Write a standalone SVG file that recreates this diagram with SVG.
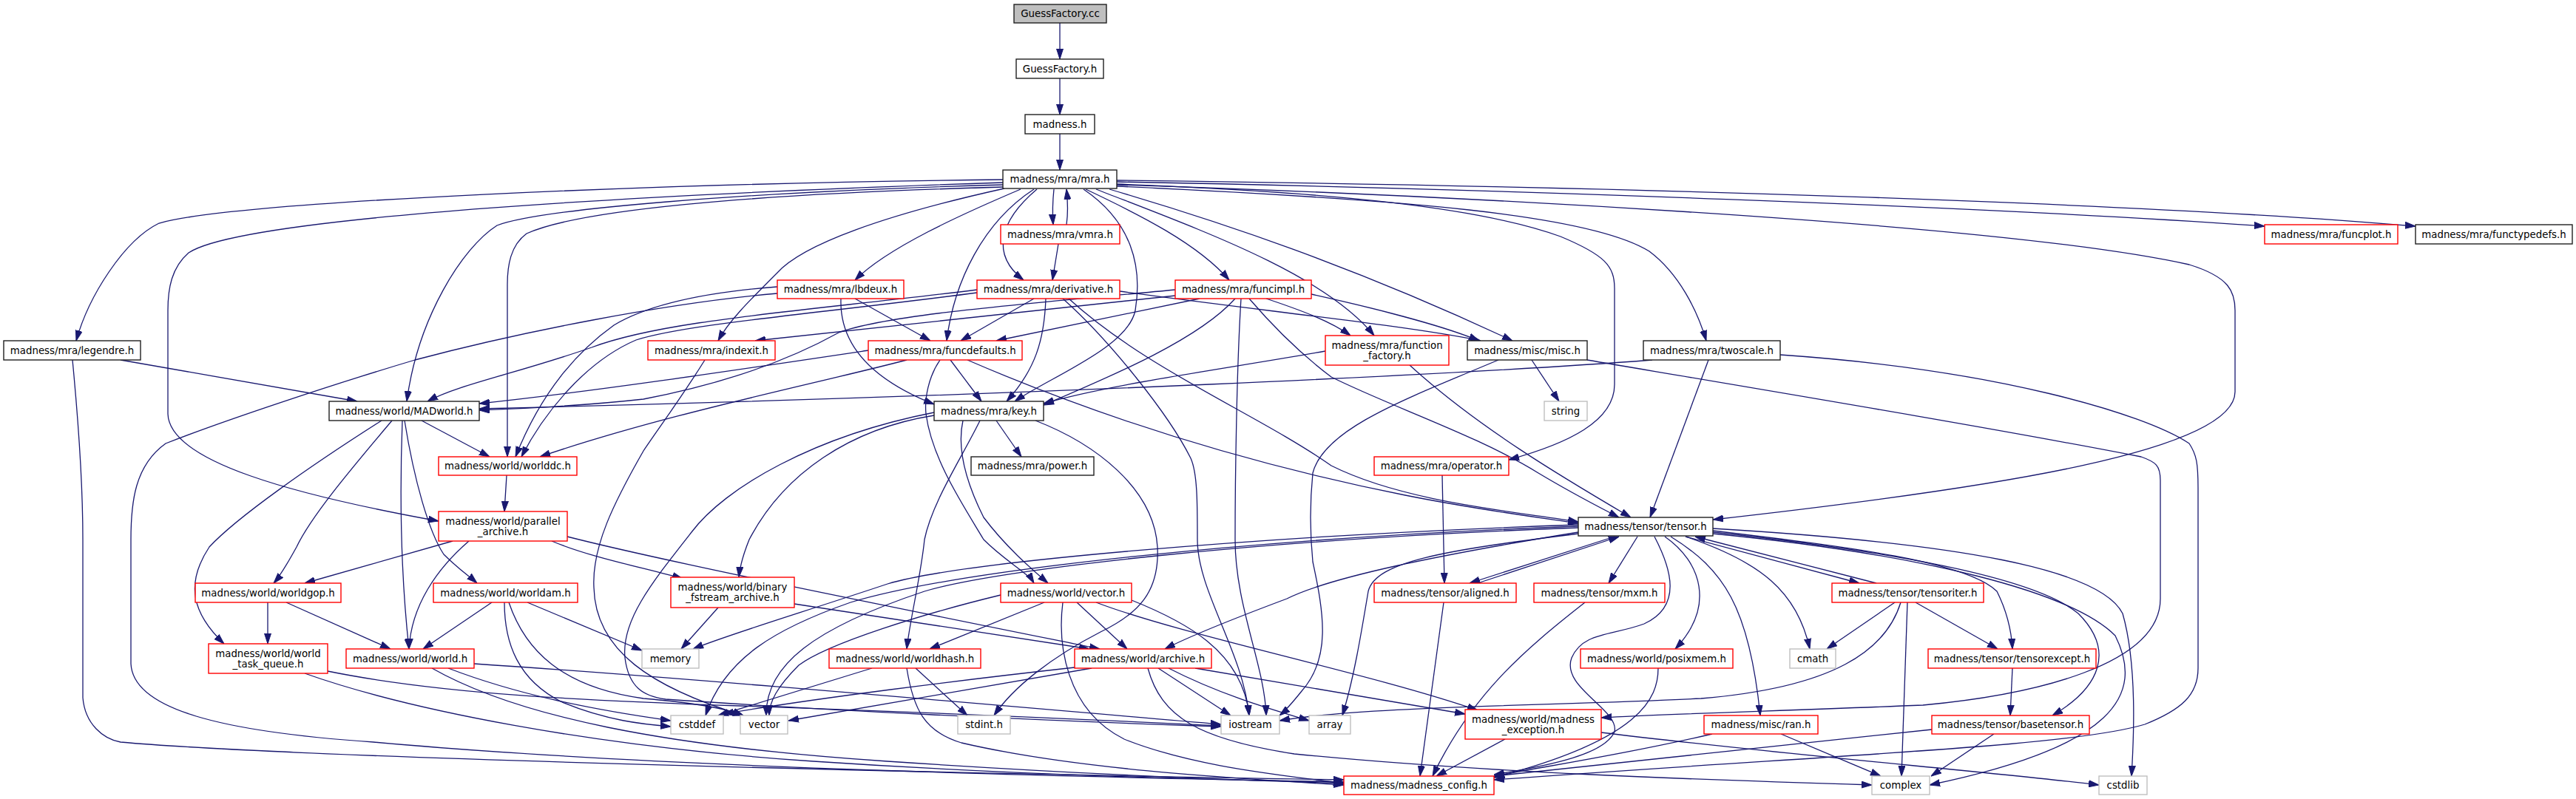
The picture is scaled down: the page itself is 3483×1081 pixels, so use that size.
<svg xmlns="http://www.w3.org/2000/svg" width="3483" height="1081" viewBox="0 0 3483 1081">
<style>
.n rect{fill:#fff;stroke:#202020;stroke-width:1.4}
.r rect{stroke:#ff0000}
.g rect{stroke:#bfbfbf}
.root rect{fill:#bfbfbf}
text{font-family:"DejaVu Sans","Liberation Sans",sans-serif;font-size:13.33px;fill:#000;text-anchor:middle}
.e path{fill:none;stroke:#191970;stroke-width:1.3;marker-end:url(#a)}
</style>
<defs>
<marker id="a" markerUnits="userSpaceOnUse" markerWidth="14" markerHeight="10" viewBox="0 0 14 10" refX="14" refY="5" orient="auto"><path d="M0,0.5 L14,5 L0,9.5 z" fill="#191970" stroke="#191970"/></marker>
</defs>
<rect width="3483" height="1081" fill="#fff"/>
<g class="e" id="edges">
<path d="M1433,31 L1433,80"/>
<path d="M1433,106 L1433,155"/>
<path d="M1433,181 L1433,230"/>
<path d="M1425,256 C1423,275 1423,290 1424,304"/>
<path d="M1442,304 C1444,290 1444,275 1442,256"/>
<path d="M1431,330 L1423,379"/>
<path d="M1356,243 C900,248 320,272 215,302 C168,325 120,400 103,461"/>
<path d="M1356,247 C900,262 330,292 255,342 C232,362 227,390 227,420 L227,560 C229,625 400,670 593,705"/>
<path d="M1356,250 C1000,260 730,283 672,305 C625,335 565,430 550,543"/>
<path d="M1356,253 C1000,263 780,285 712,316 C690,332 686,360 686,385 L686,618"/>
<path d="M1358,255 C1200,290 1085,330 1050,370 C1010,410 985,435 971,461"/>
<path d="M1380,256 C1300,290 1200,335 1156,379"/>
<path d="M1398,256 C1330,300 1290,380 1280,461"/>
<path d="M1402,256 C1350,300 1340,345 1384,379"/>
<path d="M1465,256 C1530,300 1545,360 1535,420 C1525,470 1420,510 1372,543"/>
<path d="M1468,256 C1540,290 1620,330 1662,379"/>
<path d="M1482,256 C1620,310 1790,370 1858,454"/>
<path d="M1500,256 C1650,300 1830,360 2045,461"/>
<path d="M1510,249 C1800,260 2000,280 2110,320 C2170,345 2183,360 2183,390 L2183,520 C2183,570 2120,600 2040,622"/>
<path d="M1510,252 C1900,270 2150,290 2230,340 C2270,370 2295,420 2307,461"/>
<path d="M1510,250 C1900,262 2700,300 2960,358 C3015,375 3022,395 3022,420 L3022,530 C3022,610 2700,660 2316,703"/>
<path d="M1510,246 C2000,255 2700,280 3062,306"/>
<path d="M1510,244 C2200,252 2900,275 3266,306"/>
<path d="M1156,404 L1258,461"/>
<path d="M1137,404 C1135,460 1170,510 1263,547"/>
<path d="M1051,388 C960,395 880,410 830,440 C760,490 720,560 697,618"/>
<path d="M1051,397 C900,410 700,450 561,487 C450,520 300,570 224,600 C182,630 177,680 177,730 L177,898 C180,960 300,990 505,1004 C900,1040 1500,1052 1817,1058"/>
<path d="M1398,404 L1299,461"/>
<path d="M1414,404 C1412,460 1400,500 1361,543"/>
<path d="M1437,404 C1500,460 1580,560 1610,620 C1619,640 1619,680 1619,730 C1619,800 1680,880 1689,968"/>
<path d="M1445,404 C1550,500 1700,560 1800,630 C1900,680 2050,692 2134,706"/>
<path d="M1514,394 C1700,420 1900,440 2002,461"/>
<path d="M1321,392 C1100,420 900,432 800,470 C700,505 620,520 578,543"/>
<path d="M1321,396 C1100,425 930,438 860,460 C790,490 735,560 705,618"/>
<path d="M1622,404 L1347,461"/>
<path d="M1589,400 L1021,461"/>
<path d="M1670,404 C1620,460 1500,510 1411,548"/>
<path d="M1678,404 C1672,500 1670,650 1670,730 C1670,820 1710,900 1712,968"/>
<path d="M1589,392 C1400,410 1200,425 1134,450 C1080,480 1000,515 870,540 C780,550 700,553 648,555"/>
<path d="M1712,404 C1760,420 1800,435 1826,454"/>
<path d="M1773,398 C1850,415 1950,440 2000,461"/>
<path d="M1689,404 C1720,440 1760,480 1800,510 C1880,550 2000,590 2080,640 C2130,670 2170,690 2189,700"/>
<path d="M953,487 C920,540 890,580 870,610 C830,680 800,740 803,795 C805,880 880,930 1005,968"/>
<path d="M1285,487 L1327,543"/>
<path d="M1174,474 C1000,500 800,530 648,546"/>
<path d="M1226,487 C1100,520 900,560 730,618"/>
<path d="M1271,487 C1255,510 1250,540 1252,560 C1260,620 1300,680 1330,730 C1360,760 1390,775 1398,789"/>
<path d="M1308,487 C1500,570 1700,630 1900,670 C2000,690 2080,700 2134,708"/>
<path d="M1347,569 L1381,618"/>
<path d="M1325,569 C1300,620 1260,680 1250,730 C1245,780 1230,840 1226,878"/>
<path d="M1302,569 C1295,600 1300,640 1330,700 C1360,740 1395,770 1417,789"/>
<path d="M1400,569 C1480,600 1560,660 1565,740 C1568,800 1540,830 1488,855 C1420,890 1370,930 1344,968"/>
<path d="M1263,562 C1150,580 1060,640 1013,730 C1005,750 1000,770 999,781"/>
<path d="M1263,558 C1100,590 980,660 935,720 C880,790 840,840 845,890 C850,930 870,942 900,946 C1100,960 1400,975 1651,983"/>
<path d="M1792,475 C1650,500 1500,520 1411,546"/>
<path d="M1906,494 C2000,580 2120,650 2205,700"/>
<path d="M2071,487 L2108,543"/>
<path d="M2026,487 C1900,540 1790,580 1775,640 C1771,680 1771,720 1775,760 C1790,830 1800,890 1760,935 C1748,950 1740,960 1730,968"/>
<path d="M2146,487 C2400,530 2700,580 2895,618 C2915,625 2921,630 2921,650 L2921,810 C2921,900 2750,940 2600,954 C2400,962 2250,966 2165,971"/>
<path d="M2310,487 L2231,700"/>
<path d="M2407,480 C2700,500 2900,560 2960,600 C2970,615 2972,627 2972,660 L2972,904 C2972,940 2950,960 2900,980 C2800,1010 2500,1020 2020,1055"/>
<path d="M2234,487 C2000,505 1400,535 648,553"/>
<path d="M1950,643 L1953,789"/>
<path d="M2183,726 L1987,789"/>
<path d="M1998,789 L2189,726"/>
<path d="M2214,726 L2175,789"/>
<path d="M2251,726 C2300,760 2320,820 2265,878"/>
<path d="M2237,726 C2260,770 2275,820 2223,844 C2180,860 2140,855 2125,890 C2110,930 2190,960 2183,990 C2170,1020 2100,1035 2020,1048"/>
<path d="M2259,726 C2330,770 2365,820 2380,968"/>
<path d="M2279,726 C2380,760 2430,800 2447,878"/>
<path d="M2279,726 L2514,789"/>
<path d="M2537,789 L2292,726"/>
<path d="M2316,718 C2500,740 2660,760 2700,800 C2715,830 2720,860 2721,878"/>
<path d="M2316,720 C2550,745 2750,780 2810,830 C2860,880 2840,930 2775,968"/>
<path d="M2316,722 C2600,750 2800,800 2860,860 C2900,940 2860,1010 2609,1062"/>
<path d="M2316,715 C2650,735 2840,770 2870,830 C2890,900 2885,1000 2882,1050"/>
<path d="M2134,722 C1950,745 1860,760 1850,800 C1840,860 1830,920 1815,968"/>
<path d="M2134,720 C1950,750 1800,780 1740,810 C1660,840 1610,860 1575,878"/>
<path d="M2134,710 C1700,725 1300,760 1200,790 C1080,830 980,860 937,878"/>
<path d="M2134,712 C1700,728 1300,770 1150,815 C1050,850 980,890 954,968"/>
<path d="M2134,714 C1700,730 1350,770 1250,800 C1100,850 1035,900 1036,968"/>
<path d="M1412,815 L1257,878"/>
<path d="M1456,815 L1524,878"/>
<path d="M1530,812 C1600,840 1680,880 1689,968"/>
<path d="M1353,805 C1250,830 1120,870 1080,900 C1050,930 1040,950 1040,968"/>
<path d="M1437,815 C1430,870 1440,960 1520,1000 C1620,1040 1750,1050 1817,1060"/>
<path d="M1482,815 C1600,860 1850,910 1998,961"/>
<path d="M971,822 L921,878"/>
<path d="M1074,817 L1473,878"/>
<path d="M1179,904 L971,968"/>
<path d="M1238,904 L1308,968"/>
<path d="M1226,904 C1235,960 1250,990 1300,1005 C1450,1040 1650,1052 1817,1062"/>
<path d="M1453,903 C1300,920 1100,945 978,966"/>
<path d="M1476,904 L1066,975"/>
<path d="M1566,904 L1664,968"/>
<path d="M1580,904 C1650,940 1720,960 1770,975"/>
<path d="M1616,904 L1981,966"/>
<path d="M1552,904 C1570,970 1620,1000 1750,1020 C2000,1045 2300,1055 2531,1062"/>
<path d="M2035,1000 L1942,1050"/>
<path d="M2165,991 C2400,1020 2700,1045 2838,1062"/>
<path d="M2315,993 C2200,1020 2100,1035 2020,1050"/>
<path d="M2408,993 L2543,1050"/>
<path d="M2242,904 C2242,944 2220,1000 2020,1052"/>
<path d="M1952,815 L1920,1050"/>
<path d="M2143,815 C2060,880 1990,940 1937,1050"/>
<path d="M2562,815 L2470,878"/>
<path d="M2590,815 L2701,878"/>
<path d="M2579,815 L2571,1050"/>
<path d="M2570,815 C2550,880 2480,930 2300,945 C2100,955 1850,955 1730,975"/>
<path d="M2721,904 L2718,968"/>
<path d="M2696,993 L2611,1050"/>
<path d="M2612,987 C2400,1010 2200,1030 2020,1050"/>
<path d="M412,911 C550,960 800,1010 1100,1030 C1400,1050 1650,1055 1817,1058"/>
<path d="M443,908 C600,940 800,948 1000,955 C1300,965 1500,975 1651,982"/>
<path d="M641,898 C900,915 1300,950 1651,980"/>
<path d="M606,904 C700,940 800,960 907,975"/>
<path d="M584,904 C700,970 900,1010 1200,1030 C1500,1050 1700,1056 1817,1060"/>
<path d="M665,815 L572,878"/>
<path d="M713,815 L868,880"/>
<path d="M682,815 C682,870 700,920 760,950 C820,975 870,980 907,983"/>
<path d="M688,815 C710,880 760,930 870,945 C930,950 980,958 1005,968"/>
<path d="M362,815 L362,871"/>
<path d="M387,815 L528,878"/>
<path d="M516,569 C420,630 320,700 283,740 C250,790 260,830 303,871"/>
<path d="M530,569 C470,640 420,700 401,740 C390,760 378,780 370,789"/>
<path d="M544,569 C541,650 540,760 553,878"/>
<path d="M547,569 C560,650 580,720 600,750 C620,770 635,780 645,789"/>
<path d="M570,569 L662,618"/>
<path d="M163,487 L483,543"/>
<path d="M98,487 C105,560 112,650 112,730 L112,944 C115,980 140,1000 163,1004 C400,1025 1200,1045 1817,1055"/>
<path d="M685,643 L682,692"/>
<path d="M612,732 L412,789"/>
<path d="M634,732 C590,770 556,820 553,878"/>
<path d="M767,726 C900,760 1200,820 1487,878"/>
<path d="M746,732 C800,755 880,770 923,783"/>
</g>
<g id="n_gfcc" class="n root"><rect x="1371" y="6" width="125" height="25"/><text x="1433.5" y="23.2">GuessFactory.cc</text></g>
<g id="n_gfh" class="n"><rect x="1374" y="80" width="118" height="26"/><text x="1433" y="97.7">GuessFactory.h</text></g>
<g id="n_madness" class="n"><rect x="1386" y="155" width="94" height="26"/><text x="1433" y="172.7">madness.h</text></g>
<g id="n_mra" class="n"><rect x="1356" y="230" width="154" height="25"/><text x="1433" y="247.2">madness/mra/mra.h</text></g>
<g id="n_vmra" class="n r"><rect x="1353" y="304" width="161" height="26"/><text x="1433.5" y="321.7">madness/mra/vmra.h</text></g>
<g id="n_funcplot" class="n r"><rect x="3062" y="304" width="180" height="26"/><text x="3152" y="321.7">madness/mra/funcplot.h</text></g>
<g id="n_functypedefs" class="n"><rect x="3266" y="304" width="212" height="26"/><text x="3372" y="321.7">madness/mra/functypedefs.h</text></g>
<g id="n_legendre" class="n"><rect x="5" y="461" width="185" height="26"/><text x="97.5" y="478.7">madness/mra/legendre.h</text></g>
<g id="n_madworld" class="n"><rect x="445" y="543" width="203" height="26"/><text x="546.5" y="560.7">madness/world/MADworld.h</text></g>
<g id="n_worlddc" class="n r"><rect x="593" y="618" width="187" height="25"/><text x="686.5" y="635.2">madness/world/worlddc.h</text></g>
<g id="n_parallel" class="n r"><rect x="593" y="692" width="174" height="40"/><text x="680" y="709.5">madness/world/parallel</text><text x="680" y="723.5">_archive.h</text></g>
<g id="n_lbdeux" class="n r"><rect x="1051" y="379" width="171" height="25"/><text x="1136.5" y="396.2">madness/mra/lbdeux.h</text></g>
<g id="n_derivative" class="n r"><rect x="1321" y="379" width="193" height="25"/><text x="1417.5" y="396.2">madness/mra/derivative.h</text></g>
<g id="n_funcimpl" class="n r"><rect x="1589" y="379" width="184" height="25"/><text x="1681" y="396.2">madness/mra/funcimpl.h</text></g>
<g id="n_indexit" class="n r"><rect x="876" y="461" width="172" height="26"/><text x="962" y="478.7">madness/mra/indexit.h</text></g>
<g id="n_funcdefaults" class="n r"><rect x="1174" y="461" width="208" height="26"/><text x="1278" y="478.7">madness/mra/funcdefaults.h</text></g>
<g id="n_key" class="n"><rect x="1263" y="543" width="148" height="26"/><text x="1337" y="560.7">madness/mra/key.h</text></g>
<g id="n_power" class="n"><rect x="1313" y="618" width="166" height="25"/><text x="1396" y="635.2">madness/mra/power.h</text></g>
<g id="n_funcfactory" class="n r"><rect x="1792" y="454" width="167" height="40"/><text x="1875.5" y="471.5">madness/mra/function</text><text x="1875.5" y="485.5">_factory.h</text></g>
<g id="n_misc" class="n"><rect x="1984" y="461" width="162" height="26"/><text x="2065" y="478.7">madness/misc/misc.h</text></g>
<g id="n_twoscale" class="n"><rect x="2222" y="461" width="185" height="26"/><text x="2314.5" y="478.7">madness/mra/twoscale.h</text></g>
<g id="n_string" class="n g"><rect x="2088" y="543" width="58" height="26"/><text x="2117" y="560.7">string</text></g>
<g id="n_operator" class="n r"><rect x="1858" y="618" width="182" height="25"/><text x="1949" y="635.2">madness/mra/operator.h</text></g>
<g id="n_tensor" class="n"><rect x="2134" y="700" width="182" height="25"/><text x="2225" y="717.2">madness/tensor/tensor.h</text></g>
<g id="n_worldgop" class="n r"><rect x="264" y="789" width="197" height="26"/><text x="362.5" y="806.7">madness/world/worldgop.h</text></g>
<g id="n_worldam" class="n r"><rect x="586" y="789" width="195" height="26"/><text x="683.5" y="806.7">madness/world/worldam.h</text></g>
<g id="n_wtq" class="n r"><rect x="282" y="871" width="161" height="40"/><text x="362.5" y="888.5">madness/world/world</text><text x="362.5" y="902.5">_task_queue.h</text></g>
<g id="n_world" class="n r"><rect x="468" y="878" width="173" height="26"/><text x="554.5" y="895.7">madness/world/world.h</text></g>
<g id="n_memory" class="n g"><rect x="868" y="878" width="77" height="26"/><text x="906.5" y="895.7">memory</text></g>
<g id="n_binary" class="n r"><rect x="907" y="781" width="167" height="41"/><text x="990.5" y="799">madness/world/binary</text><text x="990.5" y="813">_fstream_archive.h</text></g>
<g id="n_vectorh" class="n r"><rect x="1353" y="789" width="177" height="26"/><text x="1441.5" y="806.7">madness/world/vector.h</text></g>
<g id="n_worldhash" class="n r"><rect x="1121" y="878" width="205" height="26"/><text x="1223.5" y="895.7">madness/world/worldhash.h</text></g>
<g id="n_archive" class="n r"><rect x="1453" y="878" width="185" height="26"/><text x="1545.5" y="895.7">madness/world/archive.h</text></g>
<g id="n_cstddef" class="n g"><rect x="907" y="968" width="71" height="25"/><text x="942.5" y="985.2">cstddef</text></g>
<g id="n_vector" class="n g"><rect x="1001" y="968" width="64" height="25"/><text x="1033" y="985.2">vector</text></g>
<g id="n_stdint" class="n g"><rect x="1295" y="968" width="71" height="25"/><text x="1330.5" y="985.2">stdint.h</text></g>
<g id="n_iostream" class="n g"><rect x="1651" y="968" width="79" height="25"/><text x="1690.5" y="985.2">iostream</text></g>
<g id="n_aligned" class="n r"><rect x="1858" y="789" width="192" height="26"/><text x="1954" y="806.7">madness/tensor/aligned.h</text></g>
<g id="n_mxm" class="n r"><rect x="2074" y="789" width="177" height="26"/><text x="2162.5" y="806.7">madness/tensor/mxm.h</text></g>
<g id="n_posixmem" class="n r"><rect x="2137" y="878" width="206" height="26"/><text x="2240" y="895.7">madness/world/posixmem.h</text></g>
<g id="n_cmath" class="n g"><rect x="2420" y="878" width="62" height="26"/><text x="2451" y="895.7">cmath</text></g>
<g id="n_tensoriter" class="n r"><rect x="2477" y="789" width="205" height="26"/><text x="2579.5" y="806.7">madness/tensor/tensoriter.h</text></g>
<g id="n_array" class="n g"><rect x="1770" y="968" width="56" height="25"/><text x="1798" y="985.2">array</text></g>
<g id="n_mexc" class="n r"><rect x="1981" y="960" width="184" height="40"/><text x="2073" y="977.5">madness/world/madness</text><text x="2073" y="991.5">_exception.h</text></g>
<g id="n_ran" class="n r"><rect x="2304" y="968" width="154" height="25"/><text x="2381" y="985.2">madness/misc/ran.h</text></g>
<g id="n_mconfig" class="n r"><rect x="1817" y="1050" width="203" height="25"/><text x="1918.5" y="1067.2">madness/madness_config.h</text></g>
<g id="n_complex" class="n g"><rect x="2531" y="1050" width="78" height="25"/><text x="2570" y="1067.2">complex</text></g>
<g id="n_tensorexcept" class="n r"><rect x="2607" y="878" width="227" height="26"/><text x="2720.5" y="895.7">madness/tensor/tensorexcept.h</text></g>
<g id="n_basetensor" class="n r"><rect x="2612" y="968" width="213" height="25"/><text x="2718.5" y="985.2">madness/tensor/basetensor.h</text></g>
<g id="n_cstdlib" class="n g"><rect x="2838" y="1050" width="65" height="25"/><text x="2870.5" y="1067.2">cstdlib</text></g>
</svg>
